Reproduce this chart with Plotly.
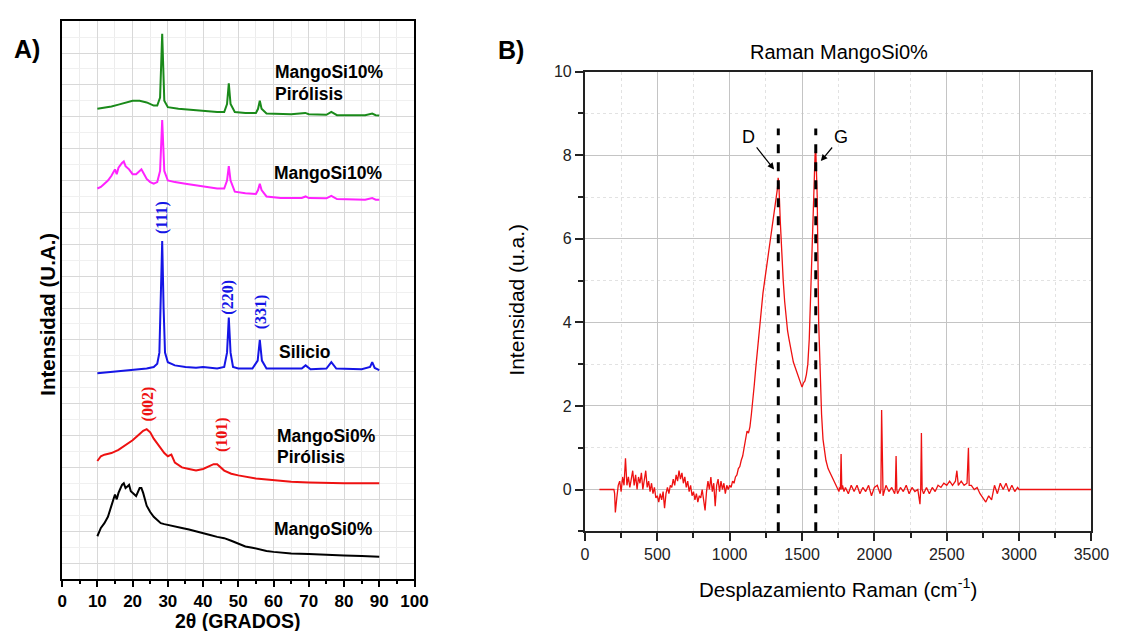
import plotly.graph_objects as go

W, H = 1131, 631
def px(x): return x / W
def py(y): return 1 - y / H

# ---------------- XRD data (panel A) ----------------
black_x = [10, 11, 12, 13, 14, 15, 15.5, 16, 17, 17.5, 18, 19, 19.5, 20, 21, 22, 22.5, 23, 24, 25, 26, 27, 28, 29, 30, 32, 34, 36, 38, 40, 42, 44, 46, 48, 50, 52, 54, 56, 58, 60, 65, 70, 75, 80, 85, 90]
black_y = [0.84, 1.1, 1.25, 1.45, 1.8, 2.15, 2.0, 2.2, 2.45, 2.5, 2.35, 2.45, 2.25, 2.2, 2.1, 2.35, 2.35, 2.2, 1.8, 1.6, 1.45, 1.35, 1.25, 1.22, 1.2, 1.15, 1.1, 1.05, 1.0, 0.95, 0.88, 0.82, 0.78, 0.7, 0.6, 0.52, 0.48, 0.42, 0.38, 0.35, 0.3, 0.28, 0.25, 0.24, 0.22, 0.2]

red_x = [10, 11, 12, 14, 16, 18, 20, 22, 23, 24, 25, 26, 27, 28, 29, 30, 31, 32, 34, 36, 38, 40, 42, 43, 44, 45, 46, 48, 50, 55, 60, 65, 70, 80, 90]
red_y = [3.2, 3.35, 3.4, 3.45, 3.55, 3.7, 3.85, 4.05, 4.15, 4.2, 4.1, 3.9, 3.75, 3.6, 3.45, 3.35, 3.4, 3.15, 3.0, 2.95, 2.9, 2.95, 3.05, 3.1, 3.1, 3.0, 2.9, 2.8, 2.75, 2.65, 2.6, 2.55, 2.53, 2.5, 2.5]

blue_x = [10, 15, 20, 24, 26, 27, 27.6, 28.0, 28.4, 28.8, 29.2, 30, 32, 35, 38, 40, 44, 46, 46.8, 47.3, 47.8, 48.5, 50, 54, 55.5, 56.1, 56.7, 58, 65, 68, 69.1, 70.5, 75, 76.4, 77.8, 85, 87.4, 88, 88.7, 90]
blue_y = [5.95, 6.0, 6.05, 6.1, 6.15, 6.25, 6.6, 8.0, 10.1, 8.0, 6.6, 6.3, 6.2, 6.15, 6.13, 6.15, 6.1, 6.15, 6.6, 7.7, 6.6, 6.15, 6.1, 6.1, 6.35, 7.0, 6.35, 6.1, 6.1, 6.1, 6.2, 6.08, 6.1, 6.3, 6.1, 6.08, 6.15, 6.3, 6.12, 6.05]

mag_x = [10, 11, 12, 13, 14, 15, 15.5, 16, 17, 17.5, 18, 19, 20, 21, 22, 22.5, 23, 24, 25, 26, 27, 27.8, 28.4, 29, 30, 32, 35, 38, 41, 44, 46, 46.8, 47.3, 47.8, 49, 52, 55, 55.6, 56.1, 56.6, 58, 62, 68, 69.1, 70, 75, 76.4, 78, 86, 88, 89, 90]
mag_y = [11.75, 11.8, 11.9, 12.0, 12.15, 12.35, 12.2, 12.4, 12.55, 12.6, 12.45, 12.35, 12.2, 12.2, 12.3, 12.35, 12.25, 12.05, 11.95, 11.9, 11.95, 12.3, 13.9, 12.3, 12.0, 11.95, 11.9, 11.85, 11.8, 11.75, 11.75, 12.0, 12.45, 12.0, 11.65, 11.6, 11.58, 11.7, 11.9, 11.7, 11.5, 11.45, 11.45, 11.5, 11.45, 11.44, 11.52, 11.42, 11.4, 11.45, 11.4, 11.4]

green_x = [10, 12, 14, 16, 18, 20, 22, 24, 26, 27, 27.8, 28.4, 29, 30, 33, 36, 40, 44, 46, 46.8, 47.3, 47.8, 49, 52, 55, 55.6, 56.1, 56.6, 58, 65, 69, 70, 75, 76.4, 78, 86, 88, 89, 90]
green_y = [14.25, 14.28, 14.32, 14.38, 14.45, 14.5, 14.5, 14.45, 14.35, 14.35, 14.6, 16.6, 14.5, 14.3, 14.25, 14.22, 14.2, 14.15, 14.15, 14.4, 15.05, 14.4, 14.15, 14.12, 14.12, 14.25, 14.5, 14.25, 14.1, 14.08, 14.12, 14.08, 14.06, 14.15, 14.05, 14.05, 14.1, 14.05, 14.04]

xrd_ticks = [0, 10, 20, 30, 40, 50, 60, 70, 80, 90, 100]

# ---------------- Raman data (panel B) ----------------
raman_x = [100, 200, 205, 210, 220, 230, 240, 250, 260, 270, 280, 290, 300, 310, 320, 330, 340, 350, 360, 370, 380, 390,
           400, 410, 420, 430, 440, 450, 460, 470, 480, 490, 500, 510, 520, 530, 540, 550, 560, 570, 580, 590,
           600, 610, 620, 630, 640, 650, 660, 670, 680, 690, 700, 710, 720, 730, 740, 750, 760, 770, 780, 790,
           800, 810, 820, 830, 840, 850, 860, 870, 880, 890, 900, 910, 920, 930, 940, 950, 960, 970, 980, 990,
           1000, 1010, 1020, 1030, 1040, 1050, 1060, 1070, 1080, 1090, 1100, 1110, 1120, 1130, 1140, 1150, 1160, 1170, 1180, 1190,
           1200, 1210, 1220, 1230, 1240, 1250, 1260, 1270, 1280, 1290, 1300, 1310, 1320, 1330, 1335, 1340, 1350, 1360, 1370, 1380, 1390,
           1400, 1410, 1420, 1430, 1440, 1450, 1460, 1470, 1480, 1490, 1500, 1510, 1520, 1530, 1540, 1550, 1560, 1570, 1580, 1590, 1595,
           1605, 1615, 1625, 1635, 1645, 1655, 1665, 1680, 1700, 1720, 1740, 1755, 1760, 1765, 1770, 1775, 1780, 1790,
           1800, 1820, 1840, 1860, 1880, 1900, 1920, 1940, 1960, 1980, 2000, 2020, 2040, 2045, 2050, 2055, 2060, 2080,
           2100, 2120, 2140, 2145, 2150, 2155, 2160, 2180, 2200, 2220, 2240, 2260, 2280, 2300, 2315, 2320, 2325, 2330, 2340, 2360, 2380,
           2400, 2420, 2440, 2460, 2480, 2500, 2520, 2540, 2560, 2570, 2580, 2600, 2620, 2640, 2650, 2655, 2670, 2690,
           2710, 2730, 2750, 2770, 2790, 2810, 2830, 2850, 2870, 2890, 2910, 2930, 2950, 2970, 2990, 3000, 3500]
raman_y = [0.0, 0.0, -0.1, -0.55, -0.2, 0.1, 0.2, -0.05, 0.3, 0.1, 0.75, 0.1, 0.3, 0.05, 0.25, 0.45, 0.1, 0.35, 0.0, 0.3, 0.15, 0.4,
           0.0, 0.2, 0.45, 0.05, 0.2, -0.05, 0.15, -0.1, 0.05, -0.2, -0.15, -0.3, -0.1, -0.25, -0.05, -0.45, -0.1, 0.05, -0.1, 0.1,
           0.05, 0.25, 0.1, 0.35, 0.2, 0.45, 0.25, 0.4, 0.15, 0.3, 0.05, 0.2, -0.05, 0.1, -0.15, -0.05, -0.25, -0.1, -0.3, -0.15,
           -0.2, 0.0, -0.3, -0.5, -0.05, 0.2, 0.0, 0.3, -0.05, 0.15, -0.4, 0.1, 0.25, -0.05, 0.2, 0.0, 0.15, -0.1, 0.1, 0.0,
           0.1, 0.05, 0.2, 0.15, 0.3, 0.35, 0.5, 0.55, 0.7, 0.8, 1.0, 1.2, 1.4, 1.35, 1.5, 1.8, 2.1, 2.5, 2.9, 3.3,
           3.7, 4.1, 4.4, 4.7, 4.95, 5.2, 5.45, 5.65, 5.9, 6.15, 6.4, 6.7, 7.0, 7.2, 7.46, 7.3, 6.4, 5.6, 5.0, 4.5, 4.1,
           3.8, 3.6, 3.4, 3.2, 3.05, 2.95, 2.85, 2.75, 2.65, 2.55, 2.45, 2.55, 2.6, 2.75, 3.0, 3.6, 4.8, 6.0, 7.2, 8.0, 8.14,
           7.0, 4.0, 2.7, 1.8, 1.2, 0.9, 0.7, 0.5, 0.35, 0.2, 0.05, -0.05, 0.05, 0.0, 0.85, 0.0, 0.1, -0.05,
           0.05, -0.1, 0.1, -0.05, 0.1, -0.1, 0.05, -0.05, 0.1, -0.15, 0.05, 0.1, -0.1, 0.0, 1.9, 0.0, -0.15, 0.1,
           -0.05, 0.05, -0.1, 0.0, 0.8, 0.0, -0.1, 0.05, -0.05, 0.1, -0.1, 0.05, -0.05, 0.0, -0.35, 0.0, 1.35, 0.0, -0.1, 0.05, -0.1,
           0.05, -0.05, 0.1, 0.05, 0.15, 0.1, 0.2, 0.1, 0.2, 0.45, 0.1, 0.2, 0.1, 0.15, 1.0, 0.1, 0.1, 0.0,
           0.05, -0.1, -0.2, -0.3, -0.15, -0.25, 0.1, -0.1, 0.15, 0.0, 0.15, -0.05, 0.1, -0.05, 0.05, 0.0, 0.0]

d_band = 1336
g_band = 1595
band_top = [8.64, 8.64]

fig = go.Figure()

# XRD traces
for xs, ys, col in [(black_x, black_y, "#000000"), (red_x, red_y, "#ee1111"),
                    (blue_x, blue_y, "#1515e6"), (mag_x, mag_y, "#ff22ff"),
                    (green_x, green_y, "#1a8a1a")]:
    fig.add_trace(go.Scatter(x=xs, y=ys, mode="lines", line=dict(color=col, width=2),
                             xaxis="x", yaxis="y", showlegend=False, hoverinfo="skip"))

# Raman trace
fig.add_trace(go.Scatter(x=raman_x, y=raman_y, mode="lines", line=dict(color="#ee1111", width=1.3),
                         xaxis="x2", yaxis="y2", showlegend=False, hoverinfo="skip"))
for xb, yt in zip([d_band, g_band], band_top):
    fig.add_trace(go.Scatter(x=[xb, xb], y=[-1, yt], mode="lines",
                             line=dict(color="black", width=3, dash="dash"),
                             xaxis="x2", yaxis="y2", showlegend=False, hoverinfo="skip"))

bold = dict(family="Liberation Sans, Arial", color="black", weight="bold")
reg = dict(family="Liberation Sans, Arial", color="#222")

fig.update_layout(
    autosize=True, margin=dict(l=0, r=0, t=0, b=0),
    paper_bgcolor="white", plot_bgcolor="white",
    xaxis=dict(domain=[px(58.3), px(418)], range=[0, 100], tickvals=xrd_ticks,
               showgrid=True, gridcolor="#d8d8d8", gridwidth=1,
               ticks="outside", ticklen=6, tickwidth=1.5, tickcolor="black",
               minor=dict(dtick=5, ticks="outside", ticklen=3, tickcolor="black",
                          showgrid=True, gridcolor="#ececec"),
               tickfont=dict(size=17, **bold),
               showline=True, linecolor="black", linewidth=2, mirror=True, zeroline=False),
    yaxis=dict(domain=[py(578.3), py(13.3)], range=[-0.5, 17], dtick=1,
               showgrid=True, gridcolor="#d8d8d8", gridwidth=1, showticklabels=False,
               minor=dict(dtick=0.5, showgrid=True, gridcolor="#f0f0f0"),
               ticks="", showline=True, linecolor="black", linewidth=2, mirror=True, zeroline=False),
    xaxis2=dict(domain=[px(592), px(1109)], range=[0, 3500], dtick=500, anchor="y2",
                showgrid=True, gridcolor="#c4c4c4", gridwidth=1,
                ticks="outside", ticklen=8, tickwidth=1.5, tickcolor="#222",
                minor=dict(dtick=250, ticks="outside", ticklen=5, tickcolor="#222",
                           showgrid=True, gridcolor="#e2e2e2", griddash="dot"),
                tickfont=dict(size=16, **reg),
                showline=True, linecolor="#222", linewidth=2, mirror=True, zeroline=False),
    yaxis2=dict(domain=[py(530), py(64.5)], range=[-1, 10], dtick=2, anchor="x2",
                showgrid=True, gridcolor="#c4c4c4", gridwidth=1,
                ticks="outside", ticklen=8, tickwidth=1.5, tickcolor="#222",
                minor=dict(dtick=1, ticks="outside", ticklen=5, tickcolor="#222",
                           showgrid=True, gridcolor="#e2e2e2", griddash="dot"),
                tickfont=dict(size=16, **reg),
                showline=True, linecolor="#222", linewidth=2, mirror=True, zeroline=False),
)

ann = []
def txt(x, y, s, size, angle=0, xanchor="center", color="black", weight="normal", family="Liberation Sans, Arial"):
    ann.append(dict(x=px(x), y=py(y), xref="paper", yref="paper", text=s, showarrow=False,
                    textangle=angle, xanchor=xanchor, yanchor="middle",
                    font=dict(size=size, color=color, family=family, weight=weight)))

# Panel labels
txt(22, 42, "A)", 25, weight="bold")
txt(517, 43, "B)", 25, weight="bold")

# Left panel series labels
LS = 17.5
txt(274, 65, "MangoSi10%", LS, weight="bold", xanchor="left")
txt(274, 87, "Pirólisis", LS, weight="bold", xanchor="left")
txt(273, 167, "MangoSi10%", LS, weight="bold", xanchor="left")
txt(278, 348, "Silicio", LS, weight="bold", xanchor="left")
txt(276, 433, "MangoSi0%", LS, weight="bold", xanchor="left")
txt(276, 455, "Pirólisis", LS, weight="bold", xanchor="left")
txt(273, 528, "MangoSi0%", LS, weight="bold", xanchor="left")

# Miller indices
serif = "Liberation Serif, Times New Roman"
txt(160.5, 212.5, "(111)", 16, angle=-90, color="#1515e6", weight="bold", family=serif)
txt(227.5, 292.5, "(220)", 16, angle=-90, color="#1515e6", weight="bold", family=serif)
txt(261, 307.5, "(331)", 16, angle=-90, color="#1515e6", weight="bold", family=serif)
txt(146, 401.5, "(002)", 16, angle=-90, color="#ee1111", weight="bold", family=serif)
txt(221, 432, "(101)", 16, angle=-90, color="#ee1111", weight="bold", family=serif)

# Axis titles left
txt(42.5, 310, "Intensidad (U.A.)", 20.5, angle=-90, weight="bold")
txt(237.5, 620.5, "2θ (GRADOS)", 19.5, weight="bold")

# Right panel titles
txt(851, 45, "Raman MangoSi0%", 20)
txt(850, 587, "Desplazamiento Raman (cm<sup>-1</sup>)", 20.5)
txt(522, 295, "Intensidad (u.a.)", 21, angle=-90)

# D / G labels with arrows pointing at the peaks
for label, lx, ly, hx, hy in [("D", 1131, 8.43, 1307, 7.66),
                              ("G", 1767, 8.43, 1630, 7.86)]:
    ann.append(dict(x=hx, y=hy, ax=lx, ay=ly, xref="x2", yref="y2", axref="x2", ayref="y2",
                    text=label, showarrow=True, arrowhead=2, arrowsize=1.1, arrowwidth=1.2,
                    arrowcolor="black", standoff=0, startstandoff=0,
                    font=dict(size=18, family="Liberation Sans, Arial", color="black")))

fig.update_layout(annotations=ann)
fig.write_html("out.html",
               default_width="100vw", default_height="100vh",
               config={"displayModeBar": False, "responsive": True},
               post_script="document.documentElement.style.margin='0';document.body.style.margin='0';"
                           "document.body.style.padding='0';document.body.style.overflow='hidden';"
                           "Plotly.Plots.resize(document.getElementById('{plot_id}'));")
